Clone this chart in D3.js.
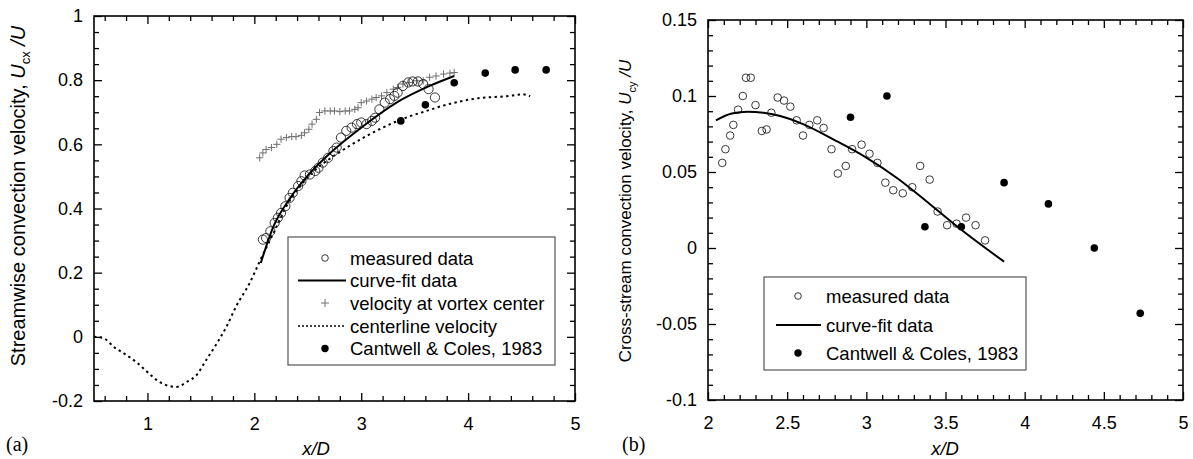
<!DOCTYPE html>
<html>
<head>
<meta charset="utf-8">
<script src="https://cdn.jsdelivr.net/npm/d3@7"></script>
<style>
  body { margin: 0; background: #fff; }
  svg text { font-family: "Liberation Sans", Arial, Helvetica, sans-serif; }
</style>
</head>
<body>
<div id="chart"></div>
<script>
// ---- panel (a): streamwise ----
const measAX = [2.08,2.11,2.15,2.19,2.22,2.25,2.29,2.33,2.36,2.41,2.44,2.47,2.52,2.57,2.60,2.64,2.69,2.74,2.77,2.81,2.86,2.91,2.96,3.00,3.05,3.10,3.13,3.17,3.22,3.27,3.31,3.34,3.39,3.44,3.48,3.53,3.58,3.63,3.69];
const measAY = [0.303,0.308,0.329,0.355,0.371,0.386,0.407,0.433,0.449,0.470,0.485,0.503,0.506,0.517,0.527,0.543,0.558,0.579,0.590,0.621,0.642,0.652,0.663,0.668,0.663,0.673,0.683,0.709,0.730,0.741,0.751,0.761,0.782,0.793,0.796,0.796,0.788,0.772,0.746];

const fitAX = [2.06,2.18,2.33,2.52,2.71,3.02,3.33,3.64,3.87];
const fitAY = [0.23,0.345,0.43,0.51,0.573,0.657,0.73,0.782,0.813];

const vortX = [2.05,2.08,2.11,2.16,2.21,2.25,2.30,2.35,2.39,2.44,2.47,2.51,2.54,2.58,2.61,2.66,2.71,2.75,2.80,2.85,2.89,2.94,2.97,3.00,3.05,3.10,3.14,3.19,3.24,3.30,3.34,3.39,3.45,3.52,3.58,3.64,3.70,3.77,3.83,3.87];
const vortY = [0.558,0.573,0.584,0.590,0.600,0.616,0.621,0.624,0.624,0.628,0.636,0.647,0.663,0.678,0.699,0.704,0.704,0.704,0.702,0.704,0.704,0.709,0.714,0.730,0.735,0.741,0.746,0.751,0.761,0.772,0.777,0.788,0.793,0.798,0.798,0.809,0.813,0.819,0.822,0.824];

const clX = [0.5,0.58,0.7,0.8,0.9,1.0,1.1,1.2,1.27,1.37,1.46,1.55,1.65,1.74,1.83,1.96,2.05,2.18,2.30,2.43,2.57,2.74,2.89,3.05,3.20,3.45,3.61,3.76,4.08,4.39,4.51,4.58];
const clY = [0,-0.003,-0.035,-0.056,-0.08,-0.11,-0.138,-0.153,-0.156,-0.14,-0.119,-0.072,-0.02,0.032,0.095,0.17,0.235,0.324,0.407,0.47,0.52,0.563,0.595,0.626,0.652,0.687,0.704,0.72,0.743,0.751,0.756,0.75];

const ccAX = [3.37,3.60,3.87,4.16,4.44,4.73];
const ccAY = [0.673,0.723,0.792,0.822,0.832,0.832];

const xTicksA = [1,2,3,4,5];
const yTicksA = [-0.2,0,0.2,0.4,0.6,0.8,1];

// ---- panel (b): cross-stream ----
const measBX = [2.09,2.11,2.14,2.16,2.19,2.22,2.24,2.27,2.30,2.34,2.37,2.40,2.44,2.48,2.52,2.56,2.60,2.64,2.69,2.73,2.78,2.82,2.87,2.91,2.97,3.02,3.07,3.12,3.17,3.23,3.29,3.34,3.40,3.45,3.51,3.57,3.63,3.69,3.75];
const measBY = [0.056,0.065,0.074,0.081,0.091,0.100,0.112,0.112,0.094,0.077,0.078,0.089,0.099,0.097,0.093,0.084,0.074,0.081,0.084,0.079,0.065,0.049,0.054,0.065,0.068,0.062,0.056,0.043,0.038,0.036,0.040,0.054,0.045,0.024,0.015,0.016,0.020,0.015,0.005];

const fitBX = [2.05,2.15,2.25,2.35,2.45,2.6,2.8,3.0,3.2,3.4,3.6,3.87];
const fitBY = [0.084,0.0885,0.0897,0.089,0.087,0.0815,0.071,0.0595,0.0456,0.029,0.012,-0.009];

const ccBX = [2.90,3.13,3.37,3.60,3.87,4.15,4.44,4.73];
const ccBY = [0.086,0.100,0.014,0.014,0.043,0.029,0.000,-0.043];

const xTicksB = [2,2.5,3,3.5,4,4.5,5];
const yTicksB = [-0.1,-0.05,0,0.05,0.1,0.15];

const zip = (xs, ys) => xs.map((x, i) => [x, ys[i]]);
const fmt = d => String(+d.toFixed(2));

const svg = d3.select("#chart").append("svg")
  .attr("width", 1193).attr("height", 459);

function drawFrame(x, y, xMajor, xMinor, yMajor, yMinor) {
  const [x0, x1] = x.range(), [y0, y1] = y.range();
  const g = svg.append("g");
  const axes = [
    [d3.axisBottom(x).tickValues(xMajor).tickSize(-8).tickPadding(16).tickFormat(fmt), `translate(0,${y0})`],
    [d3.axisBottom(x).tickValues(xMinor).tickSize(-5).tickFormat(""), `translate(0,${y0})`],
    [d3.axisTop(x).tickValues(xMajor).tickSize(-8).tickFormat(""), `translate(0,${y1})`],
    [d3.axisTop(x).tickValues(xMinor).tickSize(-5).tickFormat(""), `translate(0,${y1})`],
    [d3.axisLeft(y).tickValues(yMajor).tickSize(-8).tickPadding(11).tickFormat(fmt), `translate(${x0},0)`],
    [d3.axisLeft(y).tickValues(yMinor).tickSize(-5).tickFormat(""), `translate(${x0},0)`],
    [d3.axisRight(y).tickValues(yMajor).tickSize(-8).tickFormat(""), `translate(${x1},0)`],
    [d3.axisRight(y).tickValues(yMinor).tickSize(-5).tickFormat(""), `translate(${x1},0)`]
  ];
  axes.forEach(([ax, tr]) => {
    const a = g.append("g").attr("transform", tr).call(ax);
    a.select(".domain").remove();
    a.selectAll("line").attr("stroke", "#000").attr("stroke-width", 1.3);
    a.selectAll("text").attr("font-size", 18).attr("fill", "#000")
      .attr("font-family", "'Liberation Sans', Arial, sans-serif");
  });
  g.append("rect")
    .attr("x", x0).attr("y", y1).attr("width", x1 - x0).attr("height", y0 - y1)
    .attr("fill", "none").attr("stroke", "#000").attr("stroke-width", 1.6);
}

function openCircles(data, x, y, r) {
  svg.append("g").selectAll("circle").data(data).enter().append("circle")
    .attr("cx", d => x(d[0])).attr("cy", d => y(d[1])).attr("r", r)
    .attr("fill", "none").attr("stroke", "#222").attr("stroke-width", 0.9);
}
function dots(data, x, y, r) {
  svg.append("g").selectAll("circle").data(data).enter().append("circle")
    .attr("cx", d => x(d[0])).attr("cy", d => y(d[1])).attr("r", r)
    .attr("fill", "#000");
}
function plusMarks(data, x, y, s) {
  svg.append("g").selectAll("path").data(data).enter().append("path")
    .attr("d", d => `M${x(d[0]) - s},${y(d[1])}h${2 * s}M${x(d[0])},${y(d[1]) - s}v${2 * s}`)
    .attr("stroke", "#6e6e6e").attr("stroke-width", 1).attr("fill", "none");
}
function curve(data, x, y, dash) {
  svg.append("path").datum(data)
    .attr("d", d3.line().x(d => x(d[0])).y(d => y(d[1])).curve(d3.curveMonotoneX))
    .attr("fill", "none").attr("stroke", "#000")
    .attr("stroke-width", 2)
    .attr("stroke-dasharray", dash || null);
}

function legend(x0, y0, w, h, rows) {
  const g = svg.append("g");
  g.append("rect").attr("x", x0).attr("y", y0).attr("width", w).attr("height", h)
    .attr("fill", "#fff").attr("stroke", "#555").attr("stroke-width", 1.2);
  rows.forEach(r => {
    const cy = r.y, mx = r.mx;
    if (r.kind === "open") g.append("circle").attr("cx", mx).attr("cy", cy).attr("r", 3.3)
      .attr("fill", "none").attr("stroke", "#222").attr("stroke-width", 0.9);
    if (r.kind === "dot") g.append("circle").attr("cx", mx).attr("cy", cy).attr("r", 3.7).attr("fill", "#000");
    if (r.kind === "plus") g.append("path").attr("d", `M${mx - 4},${cy}h8M${mx},${cy - 4}v8`)
      .attr("stroke", "#6e6e6e").attr("stroke-width", 1);
    if (r.kind === "line" || r.kind === "dash") g.append("line")
      .attr("x1", r.l0).attr("x2", r.l1).attr("y1", cy).attr("y2", cy)
      .attr("stroke", "#000").attr("stroke-width", r.kind === "line" ? 2 : 1.3)
      .attr("stroke-dasharray", r.kind === "dash" ? "2,2" : null);
    g.append("text").attr("x", r.tx).attr("y", cy + 6.5).attr("font-size", 18.5).text(r.label);
  });
}

// ---------- panel (a) ----------
const xA = d3.scaleLinear().domain([0.5, 5]).range([94, 575]);
const yA = d3.scaleLinear().domain([-0.2, 1]).range([401, 16]);
drawFrame(xA, yA, xTicksA, d3.range(0.6, 4.9, 0.2).filter(v => Math.abs(v - Math.round(v)) > 0.01),
  yTicksA, d3.range(-0.15, 0.96, 0.05).filter(v => Math.abs(v * 5 - Math.round(v * 5)) > 0.01));

curve(zip(clX, clY), xA, yA, "2.4,3.4");
plusMarks(zip(vortX, vortY), xA, yA, 3.6);
openCircles(zip(measAX, measAY), xA, yA, 4.6);
curve(zip(fitAX, fitAY), xA, yA, null);
dots(zip(ccAX, ccAY), xA, yA, 3.8);

legend(288, 237, 267, 128, [
  { kind: "open", y: 258, mx: 325, tx: 350, label: "measured data" },
  { kind: "line", y: 280.5, l0: 298, l1: 346, tx: 350, label: "curve-fit data" },
  { kind: "plus", y: 303, mx: 325, tx: 350, label: "velocity at vortex center" },
  { kind: "dash", y: 326, l0: 298, l1: 346, tx: 350, label: "centerline velocity" },
  { kind: "dot", y: 348.5, mx: 325, tx: 350, label: "Cantwell & Coles, 1983" }
]);

const ylabA = svg.append("text").attr("transform", "translate(25,196) rotate(-90)")
  .attr("text-anchor", "middle").attr("font-size", 20);
ylabA.append("tspan").text("Streamwise convection velocity, ");
ylabA.append("tspan").attr("font-style", "italic").text("U");
ylabA.append("tspan").attr("font-size", 13).attr("dy", 5).text("cx");
ylabA.append("tspan").attr("dy", -5).attr("font-style", "italic").text(" /U");

svg.append("text").attr("x", 316).attr("y", 455).attr("text-anchor", "middle")
  .attr("font-size", 18.5).attr("font-style", "italic").text("x/D");
svg.append("text").attr("x", 6).attr("y", 451).attr("font-size", 20)
  .style("font-family", "'Liberation Serif', 'Times New Roman', serif").text("(a)");

// ---------- panel (b) ----------
const xB = d3.scaleLinear().domain([2, 5]).range([708, 1183]);
const yB = d3.scaleLinear().domain([-0.1, 0.15]).range([400, 20]);
drawFrame(xB, yB, xTicksB, d3.range(2.1, 4.95, 0.1).filter(v => Math.abs(v * 2 - Math.round(v * 2)) > 0.01),
  yTicksB, d3.range(-0.09, 0.145, 0.01).filter(v => Math.abs(v * 20 - Math.round(v * 20)) > 0.01));

openCircles(zip(measBX, measBY), xB, yB, 3.8);
curve(zip(fitBX, fitBY), xB, yB, null);
dots(zip(ccBX, ccBY), xB, yB, 3.8);

legend(764, 277, 262, 93, [
  { kind: "open", y: 296, mx: 798, tx: 826, label: "measured data" },
  { kind: "line", y: 325, l0: 776, l1: 821, tx: 826, label: "curve-fit data" },
  { kind: "dot", y: 353, mx: 798, tx: 826, label: "Cantwell & Coles, 1983" }
]);

const ylabB = svg.append("text").attr("transform", "translate(631,211) rotate(-90)")
  .attr("text-anchor", "middle").attr("font-size", 17);
ylabB.append("tspan").text("Cross-stream convection velocity, ");
ylabB.append("tspan").attr("font-style", "italic").text("U");
ylabB.append("tspan").attr("font-size", 11).attr("dy", 5).text("cy");
ylabB.append("tspan").attr("dy", -5).attr("font-style", "italic").text(" /U");

svg.append("text").attr("x", 945).attr("y", 455).attr("text-anchor", "middle")
  .attr("font-size", 18.5).attr("font-style", "italic").text("x/D");
svg.append("text").attr("x", 622).attr("y", 451).attr("font-size", 20)
  .style("font-family", "'Liberation Serif', 'Times New Roman', serif").text("(b)");
</script>
</body>
</html>
